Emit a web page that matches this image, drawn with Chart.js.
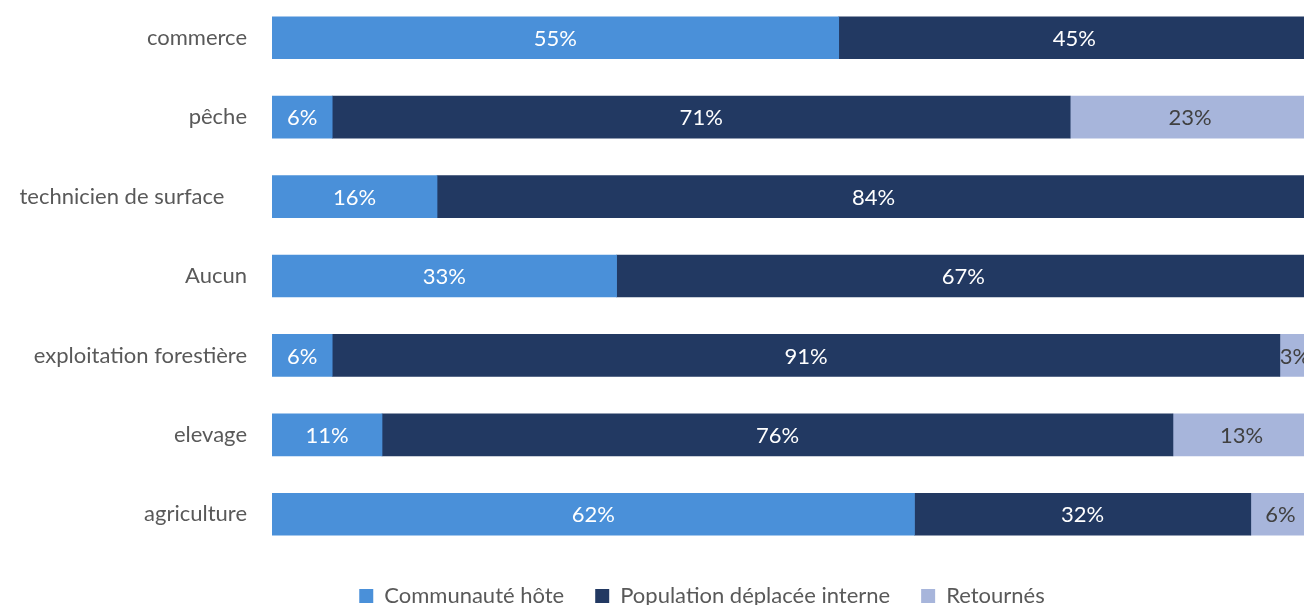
<!DOCTYPE html>
<html>
<head>
<meta charset="utf-8">
<script src="https://cdn.jsdelivr.net/npm/chart.js@4/dist/chart.umd.min.js"></script>
<style>
  html, body { margin: 0; padding: 0; background: #fff; overflow: hidden; }
  #wrap { position: absolute; left: 0; top: -2px; width: 1404px; height: 619px; }
</style>
</head>
<body>
<div id="wrap"><canvas id="app" width="1404" height="619"></canvas></div>
<script>
// categories, top to bottom
const categories = ['commerce', 'pêche', 'technicien de surface    ', 'Aucun', 'exploitation forestière', 'elevage', 'agriculture'];
const seriesNames = ['Communauté hôte', 'Population déplacée interne', 'Retournés'];
const hote = [54.6, 5.8, 15.9, 33.2, 5.8, 10.6, 61.9];
const deplacee = [45.4, 71.1, 84.1, 66.8, 91.3, 76.2, 32.4];
const retournes = [0, 23.1, 0, 0, 2.9, 13.2, 5.7];
const colors = ['#4A90D9', '#223962', '#A7B5DB'];
const labelColors = ['#ffffff', '#ffffff', '#404040'];

const FONT = 'Lato, "Liberation Sans", sans-serif';

// draw rounded % inside each segment
const segLabels = {
  id: 'segLabels',
  afterDatasetsDraw(chart) {
    const ctx = chart.ctx;
    ctx.save();
    ctx.font = '22px ' + FONT;
    ctx.textAlign = 'center';
    ctx.textBaseline = 'middle';
    chart.data.datasets.forEach((ds, i) => {
      chart.getDatasetMeta(i).data.forEach((bar, j) => {
        const v = ds.data[j];
        if (!v) return;
        const x = (bar.x + bar.base) / 2;
        ctx.fillStyle = labelColors[i];
        ctx.fillText(Math.round(v) + '%', x, bar.y + 1);
      });
    });
    ctx.restore();
  }
};

const datasets = [hote, deplacee, retournes].map((d, i) => ({
  label: seriesNames[i],
  data: d,
  backgroundColor: colors[i],
  borderWidth: 0,
  barThickness: 42,
}));

new Chart(document.getElementById('app'), {
  type: 'bar',
  data: { labels: categories, datasets },
  options: {
    indexAxis: 'y',
    responsive: false,
    animation: false,
    layout: { padding: 0 },
    scales: {
      x: {
        // 100% lands a bit past the right edge of the picture, like the reference crop
        stacked: true, min: 0, max: 109.06, display: false,
      },
      y: {
        stacked: true,
        grid: { display: false, drawTicks: false },
        border: { display: false },
        ticks: { color: '#595959', font: { family: FONT, size: 22 }, padding: 25 },
        afterFit(scale) {
          scale.width = 272;
          scale.paddingTop = 0;
          scale.paddingBottom = 0;
        }
      }
    },
    plugins: {
      tooltip: { enabled: false },
      legend: {
        position: 'bottom',
        labels: {
          color: '#595959',
          font: { family: FONT, size: 22 },
          boxWidth: 14,
          boxHeight: 14,
          padding: 31,
        }
      }
    }
  },
  plugins: [segLabels]
});
</script>
</body>
</html>
